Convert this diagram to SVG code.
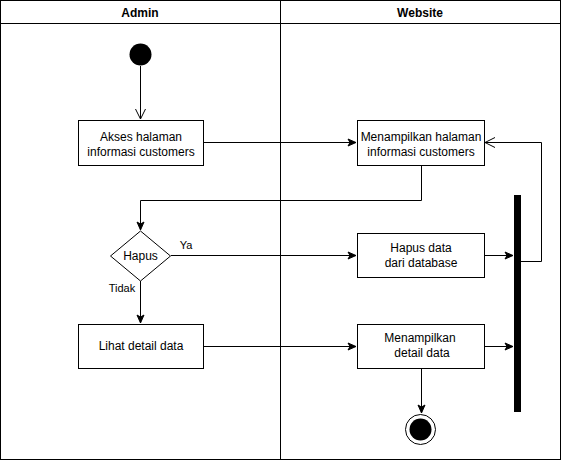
<svg xmlns="http://www.w3.org/2000/svg" width="562" height="461" viewBox="0 0 562 461">
<style>
text{font-family:"Liberation Sans",Arial,sans-serif;font-size:12px;fill:#000;text-anchor:middle}
.h{font-weight:bold}
.lbl{font-size:11px}
.box{fill:#fff;stroke:#000;stroke-width:1}
.ln{fill:none;stroke:#000;stroke-width:1}
</style>
<defs>
<marker id="a" markerWidth="10" markerHeight="10" refX="9" refY="5" orient="auto" markerUnits="userSpaceOnUse">
<path d="M1,1.5 L9,5 L1,8.5 L3,5 Z" fill="#000" stroke="#000" stroke-width="1"/>
</marker>
<marker id="o" markerWidth="12" markerHeight="12" refX="11" refY="6" orient="auto" markerUnits="userSpaceOnUse">
<path d="M1,1 L11,6 L1,11" fill="none" stroke="#000" stroke-width="1"/>
</marker>
</defs>
<g id="lanes">
<rect x="0.5" y="0.5" width="560" height="459" fill="#fff" stroke="#000"/>
<line x1="0.5" y1="23.5" x2="560.5" y2="23.5" stroke="#000"/>
<line x1="280.5" y1="0.5" x2="280.5" y2="459.5" stroke="#000"/>
<text class="h" x="140" y="17">Admin</text>
<text class="h" x="420" y="17">Website</text>
</g>
<g id="connectors">
<path class="ln" d="M140.5,66 V119" marker-end="url(#o)"/>
<path class="ln" d="M203,142.5 H356" marker-end="url(#a)"/>
<path class="ln" d="M421.5,165 V200.5 H140.5 V230" marker-end="url(#a)"/>
<path class="ln" d="M171,255.5 H356" marker-end="url(#a)"/>
<path class="ln" d="M140.5,281 V323" marker-end="url(#a)"/>
<path class="ln" d="M203,346.5 H356" marker-end="url(#a)"/>
<path class="ln" d="M484,255.5 H513" marker-end="url(#a)"/>
<path class="ln" d="M484,346.5 H513" marker-end="url(#a)"/>
<path class="ln" d="M520,261.5 H541.5 V142.5 H485" marker-end="url(#o)"/>
<path class="ln" d="M421.5,369 V413" marker-end="url(#a)"/>
<text class="lbl" x="186" y="249">Ya</text>
<text class="lbl" x="122" y="292">Tidak</text>
</g>
<g id="start"><circle cx="140.5" cy="54.5" r="11" fill="#000"/></g>
<g id="akses">
<rect class="box" x="78.5" y="120.5" width="125" height="45"/>
<text x="141" y="141">Akses halaman</text>
<text x="141" y="156">informasi customers</text>
</g>
<g id="tampil-info">
<rect class="box" x="357.5" y="120.5" width="127" height="45"/>
<text x="421" y="141">Menampilkan halaman</text>
<text x="421" y="156">informasi customers</text>
</g>
<g id="hapus-decision">
<path class="box" d="M140.5,231 L170.5,256 L140.5,281 L110.5,256 Z"/>
<text x="140.5" y="260">Hapus</text>
</g>
<g id="hapus-data">
<rect class="box" x="357.5" y="233.5" width="127" height="44"/>
<text x="421" y="252">Hapus data</text>
<text x="421" y="267">dari database</text>
</g>
<g id="lihat">
<rect class="box" x="78.5" y="324.5" width="125" height="44"/>
<text x="141" y="350">Lihat detail data</text>
</g>
<g id="tampil-detail">
<rect class="box" x="357.5" y="324.5" width="127" height="44"/>
<text x="420" y="342">Menampilkan</text>
<text x="422" y="357">detail data</text>
</g>
<g id="bar"><rect x="514" y="195" width="7" height="217" fill="#000"/></g>
<g id="end">
<circle cx="420.5" cy="429.5" r="15" fill="#fff" stroke="#000" stroke-width="1"/>
<circle cx="420.5" cy="429.5" r="11" fill="#000"/>
</g>
</svg>
